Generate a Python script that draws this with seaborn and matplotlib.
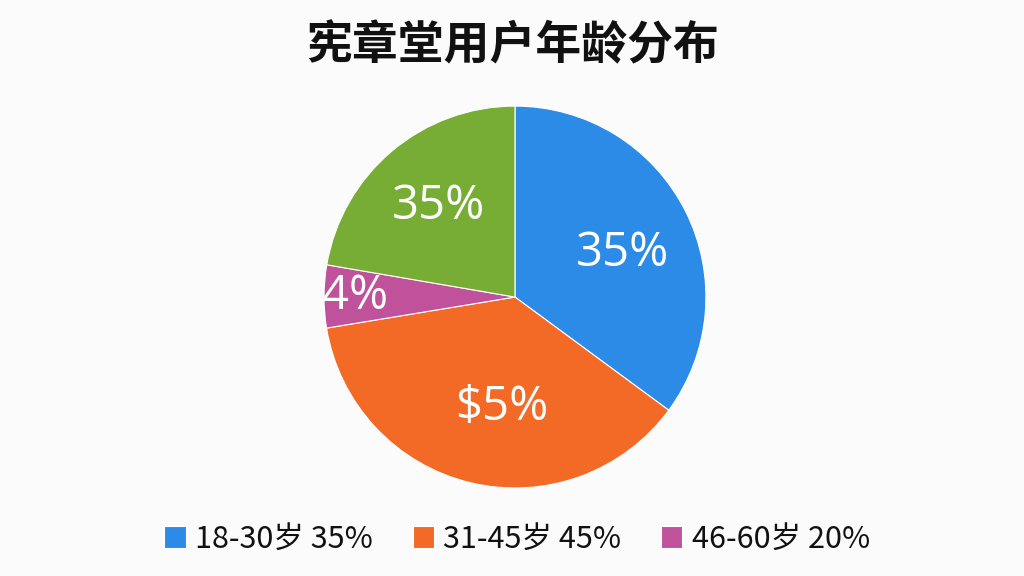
import matplotlib
matplotlib.use("Agg")
import numpy as np
import seaborn as sns
from matplotlib import pyplot as plt

# data
title = "宪章堂用户年龄分布"
shares = [35.1, 37.3, 5.3, 22.3]
slice_labels = ["35%", "$5%", "4%", "35%"]
slice_colors = ["#2b8be6", "#f36a27", "#c0519b", "#78ad35"]
legend_labels = ["18-30岁 35%", "31-45岁 45%", "46-60岁 20%"]

# where each label sits inside its slice (radius, angle nudge in degrees)
label_dist = [0.61, 0.58, 0.84, 0.62]
label_nudge = [-4.5, 6.8, 0.0, 0.0]

sns.set_theme(style="white")
plt.rcParams["font.family"] = ["Noto Sans CJK SC", "DejaVu Sans"]

bg = "#fbfbfb"
fig = plt.figure(figsize=(10.24, 5.76), dpi=100, facecolor=bg)
ax = fig.add_axes([0.3164, 0.1528, 0.373, 0.663])
ax.set_facecolor(bg)

wedges, _ = ax.pie(
    shares,
    colors=slice_colors,
    startangle=90,
    counterclock=False,
    wedgeprops=dict(edgecolor="white", linewidth=0.8),
)
for w, lab, d, nudge in zip(wedges, slice_labels, label_dist, label_nudge):
    ang = np.deg2rad((w.theta1 + w.theta2) / 2 + nudge)
    ax.text(d * np.cos(ang), d * np.sin(ang), lab, color="white",
            fontsize=34, ha="center", va="center",
            family=["Open Sans", "DejaVu Sans"])
ax.set_xlim(-1, 1)
ax.set_ylim(-1, 1)
ax.set_aspect("equal")
ax.axis("off")

fig.text(0.5, 1 - 46 / 576, title, ha="center", va="center",
         fontsize=33, fontweight="bold", color="#111111")

fig.legend(
    wedges[:3], legend_labels,
    loc="center", bbox_to_anchor=(0.505, 1 - 539 / 576),
    ncol=3, frameon=False,
    prop=dict(family=["Noto Sans CJK SC", "DejaVu Sans"], size=22, weight="medium"),
    handlelength=0.7, handleheight=0.7, handletextpad=0.3,
    columnspacing=1.3, labelcolor="#111111",
)

fig.savefig("out.png", dpi=100, facecolor=bg)
